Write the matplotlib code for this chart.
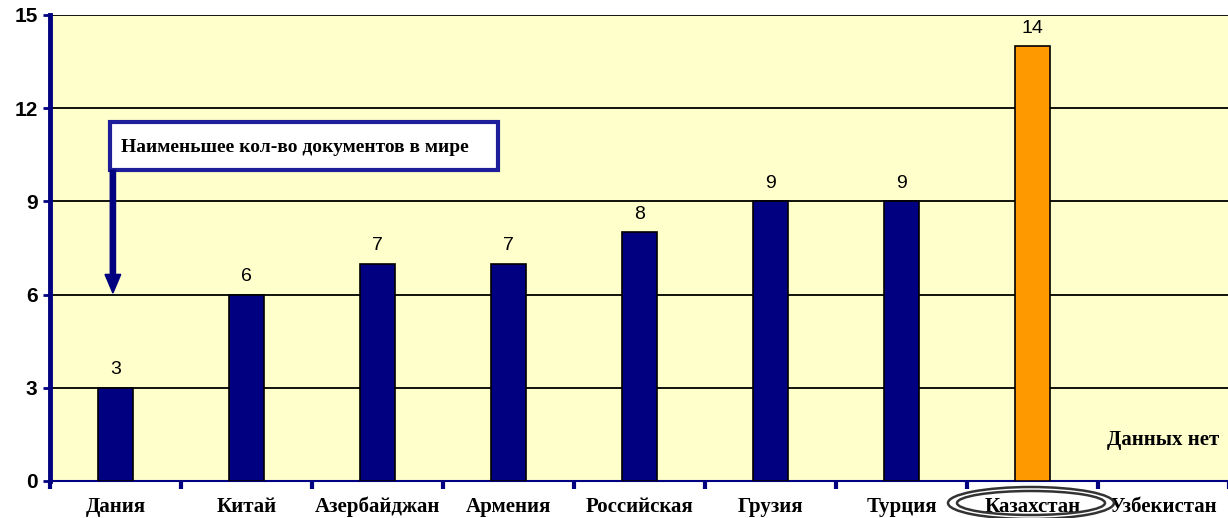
import matplotlib
matplotlib.use("Agg")
import matplotlib.pyplot as plt
from matplotlib.patches import Rectangle, Ellipse, FancyArrow

categories = ["Дания", "Китай", "Азербайджан", "Армения", "Российская",
              "Грузия", "Турция", "Казахстан", "Узбекистан"]
values = [3, 6, 7, 7, 8, 9, 9, 14, None]
colors = ["#000080"] * 7 + ["#FF9900", "#000080"]
yticks = [0, 3, 6, 9, 12, 15]
note_text = "Наименьшее кол-во документов в мире"
nodata_text = "Данных нет"

W, H = 1228, 518
fig = plt.figure(figsize=(W / 100, H / 100), dpi=100)
ax = fig.add_axes([50 / W, 1 - 481 / H, (1229 - 50) / W, (481 - 15) / H])
ax.set_facecolor("#FFFFCC")

xs = list(range(len(categories)))
for x, v, c in zip(xs, values, colors):
    if v is None:
        continue
    ax.bar(x, v, width=0.26, color=c, edgecolor="black", linewidth=1.2, zorder=3)
    ax.text(x, v + 0.3, str(v), ha="center", va="bottom", fontsize=14,
            family="Liberation Sans", color="black", zorder=4)

ax.set_xlim(-0.5, len(categories) - 0.5)
ax.set_ylim(0, 15)
ax.set_yticks(yticks)
ax.set_yticklabels([str(t) for t in yticks], fontsize=15, fontweight="bold",
                   family="Liberation Sans")
for t in yticks[1:]:
    ax.axhline(t, color="black", linewidth=1.3, zorder=2)

ax.set_xticks([i + 0.5 for i in range(-1, len(categories))], minor=False)
ax.set_xticklabels([])
ax.tick_params(axis="x", which="major", length=6, width=3, color="#000080", direction="out")
ax.tick_params(axis="y", length=5, width=2, color="#000080", direction="out", pad=4)
for i, name in enumerate(categories):
    ax.text(i, -0.84, name, ha="center", va="center", fontsize=15, fontweight="bold",
            family="Liberation Serif", clip_on=False)

ax.spines["left"].set_color("#000080")
ax.spines["left"].set_linewidth(3.5)
ax.spines["bottom"].set_color("#000080")
ax.spines["bottom"].set_linewidth(1.5)
ax.spines["top"].set_visible(False)
ax.spines["right"].set_visible(False)

# annotation box and arrow
ax.add_patch(Rectangle((-0.04, 10.0), 2.96, 1.55, facecolor="white",
                       edgecolor="#1E1E9A", linewidth=3, zorder=5))
ax.text(0.04, 10.72, note_text, ha="left", va="center", fontsize=14,
        fontweight="bold", family="Liberation Serif", zorder=6)
ax.add_patch(FancyArrow(-0.02, 10.0, 0, -3.95, width=0.04, head_width=0.12,
                        head_length=0.6, length_includes_head=True,
                        color="#000080", zorder=5))

ax.text(7.57, 1.32, nodata_text, ha="left", va="center", fontsize=15,
        fontweight="bold", family="Liberation Serif", clip_on=False)

# double ellipse around Kazakhstan label
for w, h in [(166, 32), (148, 24)]:
    e = Ellipse((1031 / W, 1 - 503 / H), w / W, h / H, transform=fig.transFigure,
                fill=False, edgecolor="#333333", linewidth=1.8)
    fig.patches.append(e)

fig.savefig("out.png", dpi=100, facecolor="white")
